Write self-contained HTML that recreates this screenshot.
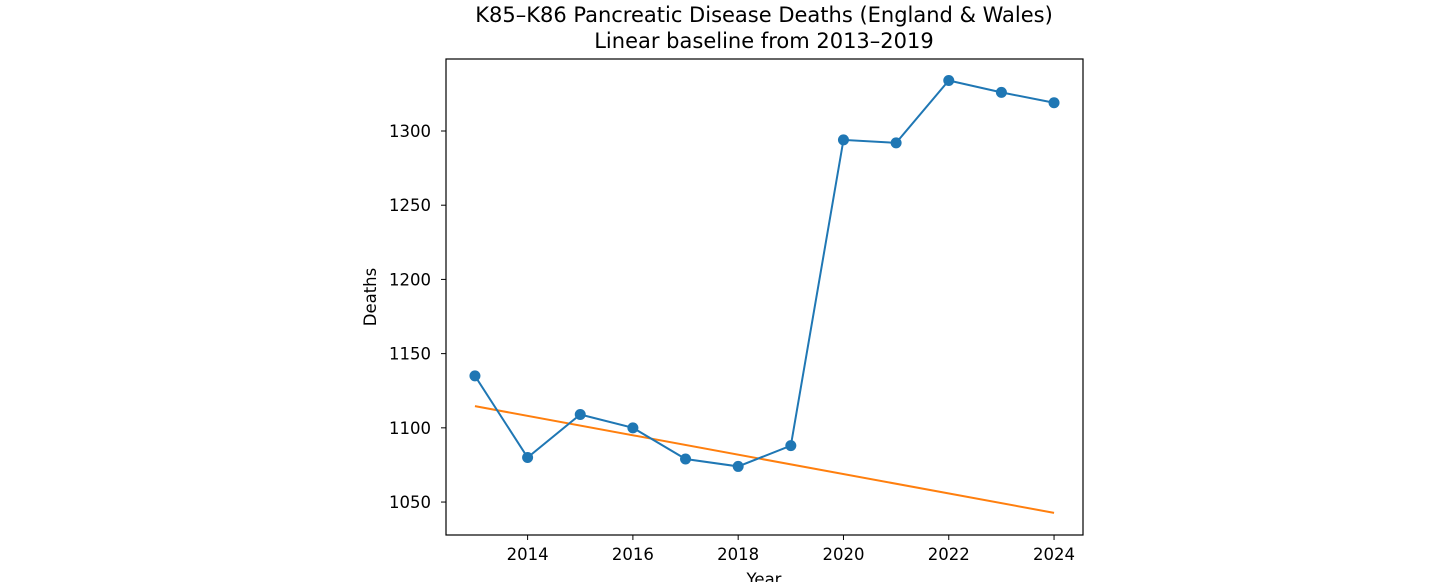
<!DOCTYPE html>
<html><head><meta charset="utf-8"><style>
body{margin:0;background:#fff;font-family:"Liberation Sans","DejaVu Sans",sans-serif;}
svg text{font-family:"DejaVu Sans","Liberation Sans",sans-serif;}
</style></head><body>
<svg id="chart" width="1456" height="582">
<text x="764" y="22" text-anchor="middle" font-size="21">K85–K86 Pancreatic Disease Deaths (England &amp; Wales)</text>
<text x="764" y="48" text-anchor="middle" font-size="21">Linear baseline from 2013–2019</text>
<g id="plot"></g>
<text x="764" y="585" text-anchor="middle" font-size="16.5">Year</text>
<text transform="translate(376,297) rotate(-90)" text-anchor="middle" font-size="16.5">Deaths</text>
</svg>
<script>
const years=[2013,2014,2015,2016,2017,2018,2019,2020,2021,2022,2023,2024];
const deaths=[1135,1080,1109,1100,1079,1074,1088,1294,1292,1334,1326,1319];
const xTicks=[2014,2016,2018,2020,2022,2024];
const yTicks=[1050,1100,1150,1200,1250,1300];
const L=446,R=1083,T=59,B=535;
const xmin=2012.45,xmax=2024.55,ymin=1027.8,ymax=1348.5;
const X=v=>L+(v-xmin)/(xmax-xmin)*(R-L);
const Y=v=>B-(v-ymin)/(ymax-ymin)*(B-T);
const ns="http://www.w3.org/2000/svg",g=document.getElementById('plot');
function mk(t,a){const e=document.createElementNS(ns,t);for(const k in a)e.setAttribute(k,a[k]);g.appendChild(e);return e;}
const bx=years.filter(y=>y<=2019),by=deaths.slice(0,bx.length);
const mx=bx.reduce((a,b)=>a+b)/bx.length,my=by.reduce((a,b)=>a+b)/by.length;
let sxy=0,sxx=0;bx.forEach((x,i)=>{sxy+=(x-mx)*(by[i]-my);sxx+=(x-mx)**2;});
const slope=sxy/sxx;
const fit=v=>my+slope*(v-mx);
xTicks.forEach(t=>{
 const l=mk('line',{x1:X(t),x2:X(t),y1:B,y2:B+5,stroke:'#000'});
 
 const tx=mk('text',{x:X(t),y:B+25,'text-anchor':'middle','font-size':16.5});tx.textContent=t;
 
});
yTicks.forEach(t=>{
 const l=mk('line',{x1:L-5,x2:L,y1:Y(t),y2:Y(t),stroke:'#000'});
 
 const tx=mk('text',{x:L-15,y:Y(t)+6,'text-anchor':'end','font-size':16.5});tx.textContent=t;
 
});
const bl=mk('line',{x1:X(years[0]),y1:Y(fit(years[0])),x2:X(years[years.length-1]),y2:Y(fit(years[years.length-1])),stroke:'#ff7f0e','stroke-width':2});

const pl=mk('polyline',{points:years.map((y,i)=>X(y)+','+Y(deaths[i])).join(' '),fill:'none',stroke:'#1f77b4','stroke-width':2});

years.forEach((y,i)=>{const c=mk('circle',{cx:X(y),cy:Y(deaths[i]),r:5.5,fill:'#1f77b4'});
 });
const fr=mk('rect',{x:L,y:T,width:R-L,height:B-T,fill:'none',stroke:'#000','stroke-width':1.2});

</script>
</body></html>
